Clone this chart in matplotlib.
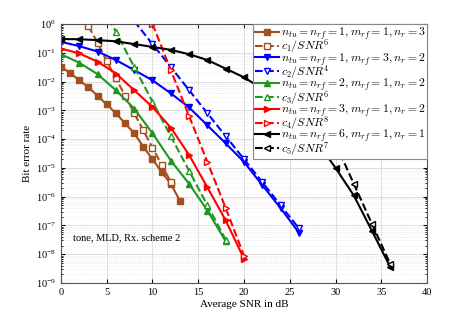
import numpy as np
import matplotlib
matplotlib.use("Agg")
import matplotlib.pyplot as plt
from matplotlib.ticker import LogLocator, NullFormatter, FixedLocator

plt.rcParams['font.family'] = ['Liberation Serif', 'DejaVu Serif']
plt.rcParams['mathtext.fontset'] = 'cm'

# BER curves
snr_brown = [0, 1, 2, 3, 4, 5, 6, 7, 8, 9, 10, 11, 12, 13]
ber_brown = [3.2e-2, 2.0e-2, 1.1e-2, 6.3e-3, 3.2e-3, 1.6e-3, 7.9e-4, 3.5e-4,
             1.6e-4, 5.4e-5, 2.0e-5, 7.1e-6, 2.8e-6, 7.1e-7]
snr_brown_th = [3, 4, 5, 6, 7, 8, 9, 10, 11, 12]
ber_brown_th = [8.5e-1, 2.2e-1, 5.1e-2, 1.3e-2, 3.2e-3, 7.9e-4, 2.0e-4,
                5.0e-5, 1.3e-5, 3.2e-6]

snr_blue = [0, 2, 4, 6, 8, 10, 12, 14, 16, 18, 20, 22, 24, 26]
ber_blue = [2.4e-1, 1.7e-1, 1.1e-1, 5.6e-2, 2.5e-2, 1.1e-2, 3.9e-3, 1.26e-3,
            3.0e-4, 7.1e-5, 1.6e-5, 2.5e-6, 4.0e-7, 5.6e-8]
snr_blue_th = [8, 10, 12, 14, 16, 18, 20, 22, 24, 26]
ber_blue_th = [1.26, 2.0e-1, 3.2e-2, 5.0e-3, 7.9e-4, 1.26e-4, 2.0e-5,
               3.2e-6, 5.0e-7, 7.9e-8]

snr_green = [0, 2, 4, 6, 8, 10, 12, 14, 16, 18]
ber_green = [8.9e-2, 4.5e-2, 1.8e-2, 5.0e-3, 1.15e-3, 1.6e-4, 1.8e-5,
             2.8e-6, 3.3e-7, 2.8e-8]
snr_green_th = [4, 6, 8, 10, 12, 14, 16, 18]
ber_green_th = [8.5, 5.4e-1, 3.2e-2, 2.0e-3, 1.26e-4, 7.9e-6, 5.0e-7, 3.2e-8]

snr_red = [0, 2, 4, 6, 8, 10, 12, 14, 16, 18, 20]
ber_red = [1.4e-1, 9.5e-2, 4.9e-2, 1.9e-2, 5.0e-3, 1.3e-3, 2.5e-4, 2.8e-5,
           2.1e-6, 1.5e-7, 6.9e-9]
snr_red_th = [10, 12, 14, 16, 18, 20]
ber_red_th = [1.0, 2.5e-2, 6.3e-4, 1.6e-5, 4.0e-7, 8.9e-9]

snr_black = [0, 2, 4, 6, 8, 10, 12, 14, 16, 18, 20, 22, 24, 26, 28, 30, 32, 34, 36]
ber_black = [3.0e-1, 2.95e-1, 2.75e-1, 2.5e-1, 2.0e-1, 1.6e-1, 1.26e-1, 8.9e-2,
             5.6e-2, 2.8e-2, 1.4e-2, 5.6e-3, 1.8e-3, 4.5e-4, 7.9e-5, 1.0e-5,
             1.1e-6, 6.3e-8, 3.5e-9]
snr_black_th = [26, 28, 30, 32, 34, 36]
ber_black_th = [4.5e-2, 1.8e-3, 7.1e-5, 2.8e-6, 1.1e-7, 4.5e-9]

labels = [r'$n_{tu}=n_{rf}=1, m_{rf}=1, n_r=3$', r'$c_1/SNR^6$',
          r'$n_{tu}=n_{rf}=1, m_{rf}=3, n_r=2$', r'$c_2/SNR^4$',
          r'$n_{tu}=n_{rf}=2, m_{rf}=1, n_r=2$', r'$c_3/SNR^6$',
          r'$n_{tu}=n_{rf}=3, m_{rf}=1, n_r=2$', r'$c_4/SNR^8$',
          r'$n_{tu}=n_{rf}=6, m_{rf}=1, n_r=1$', r'$c_5/SNR^7$']

brown = '#A3501E'
green = '#1F961F'
series = [
    (snr_brown, ber_brown, snr_brown_th, ber_brown_th, brown, 's'),
    (snr_blue, ber_blue, snr_blue_th, ber_blue_th, 'blue', 'v'),
    (snr_green, ber_green, snr_green_th, ber_green_th, green, '^'),
    (snr_red, ber_red, snr_red_th, ber_red_th, 'red', '>'),
    (snr_black, ber_black, snr_black_th, ber_black_th, 'black', '<'),
]

fig = plt.figure(figsize=(4.71, 3.19), dpi=100)
ax = fig.add_axes([0.1295, 0.1129, 0.7771, 0.8119])

i = 0
for x, y, xt, yt, c, m in series:
    ax.semilogy(x, y, '-', color=c, marker=m, ms=4.5, lw=1.5,
                mfc=c, mec=c, label=labels[i])
    ax.semilogy(xt, yt, '--', color=c, marker=m, ms=4.5, lw=1.5,
                mfc='white', mec=c, label=labels[i + 1])
    i += 2

ax.set_xlim(0, 40)
ax.set_ylim(1e-9, 1)
ax.set_xticks(range(0, 41, 5))
ax.yaxis.set_major_locator(FixedLocator([10.0 ** k for k in range(-9, 1)]))
ax.yaxis.set_minor_locator(LogLocator(base=10, subs=np.arange(2, 10), numticks=20))
ax.yaxis.set_minor_formatter(NullFormatter())
ax.tick_params(which='both', direction='in', top=True, right=True, labelsize=7.5)
ax.tick_params(which='major', length=3)
ax.tick_params(which='minor', length=1.5)
ax.grid(True, which='major', color='#d9d9d9', lw=0.6)
ax.grid(True, which='minor', axis='y', color='#e0e0e0', lw=0.5, ls=':')
ax.set_axisbelow(True)
for sp in ax.spines.values():
    sp.set_color('#555555')
    sp.set_linewidth(0.8)

ax.set_xlabel('Average SNR in dB', fontsize=8, labelpad=2)
ax.set_ylabel('Bit error rate', fontsize=8, labelpad=3)
ax.text(1.3, 3e-8, 'tone, MLD, Rx. scheme 2', fontsize=7.5)

leg = ax.legend(loc='upper right', fontsize=8.5, borderaxespad=0,
                fancybox=False, framealpha=1, edgecolor='#888888',
                handlelength=2.0, handletextpad=0.2, labelspacing=-0.38,
                borderpad=0.12)
leg.get_frame().set_linewidth(0.8)

fig.savefig('out.png', dpi=100)
